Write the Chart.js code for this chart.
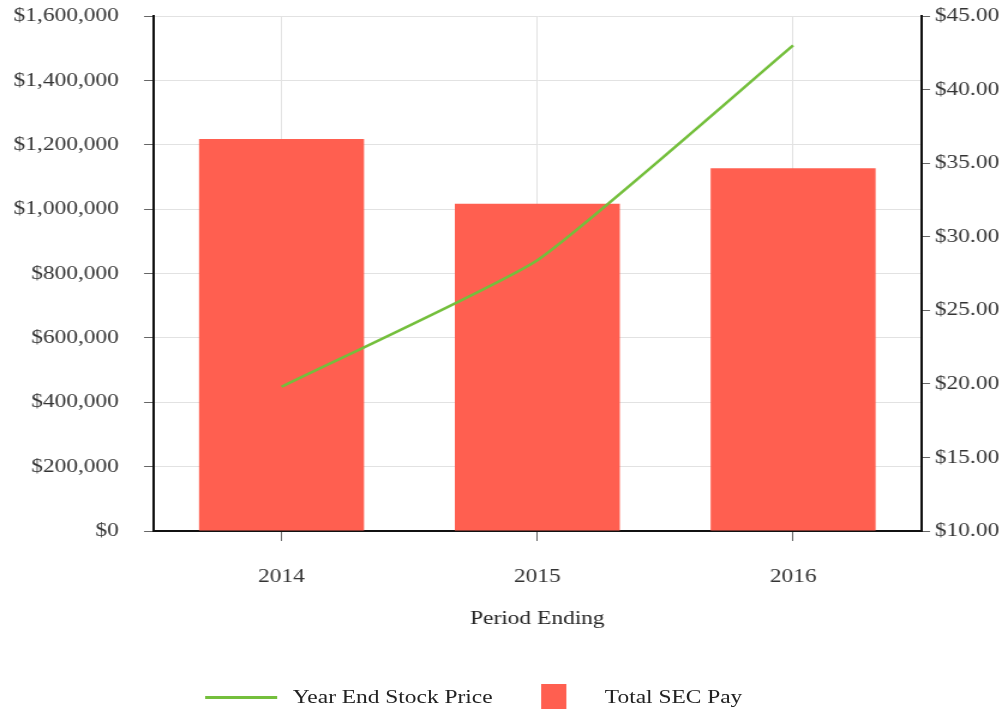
<!DOCTYPE html>
<html>
<head>
<meta charset="utf-8">
<script src="https://cdn.jsdelivr.net/npm/chart.js@4.4.0/dist/chart.umd.min.js"></script>
<style>
  html, body { margin: 0; padding: 0; background: #fff; overflow: hidden; }
  #stage { position: absolute; left: 0; top: 0; width: 839px; height: 712px;
           transform: scale(1.2, 1); transform-origin: 0 0; }
  #wrap { position: absolute; left: 0; top: 0; width: 839px; height: 712px; }
  .lg { position: absolute; font-family: "Liberation Serif", "Times New Roman", serif;
        font-size: 19.5px; color: #222; line-height: 24px; white-space: nowrap; }
</style>
</head>
<body>
<div id="stage">
  <div id="wrap"><canvas id="c"></canvas></div>
  <div class="lg" style="left:171px; top:696px; width:60px; height:3px; background:#74bf3c;"></div>
  <div class="lg" style="left:244px; top:685px;">Year End Stock Price</div>
  <div class="lg" style="left:451px; top:684px; width:21px; height:25px; background:#FF5F50;"></div>
  <div class="lg" style="left:504px; top:685px;">Total SEC Pay</div>
</div>
<script>
const categories = ["2014", "2015", "2016"];
const totalSecPay = [1218000, 1017000, 1127000];
const yearEndStockPrice = [19.8, 28.4, 43.0];
const payTickMin = 0, payTickMax = 1600000, payTickStep = 200000;
const priceTickMin = 10, priceTickMax = 45, priceTickStep = 5;

const FONT = { family: '"Liberation Serif", "Times New Roman", serif', size: 19.5 };
const GRID = '#e2e2e2';
const TICKC = '#666';

new Chart(document.getElementById('c'), {
  data: {
    labels: categories,
    datasets: [
      {
        type: 'line',
        label: 'Year End Stock Price',
        data: yearEndStockPrice,
        yAxisID: 'y1',
        borderColor: '#74bf3c',
        backgroundColor: '#74bf3c',
        borderWidth: 2.5,
        pointRadius: 0,
        tension: 0.15,
        order: 0
      },
      {
        type: 'bar',
        label: 'Total SEC Pay',
        data: totalSecPay,
        yAxisID: 'y',
        backgroundColor: '#FF5F50',
        borderWidth: 0,
        barPercentage: 0.645,
        categoryPercentage: 1.0,
        order: 1
      }
    ]
  },
  options: {
    responsive: true,
    maintainAspectRatio: false,
    animation: false,
    layout: { autoPadding: false, padding: { top: 16, bottom: 81, left: 0, right: 0 } },
    plugins: { legend: { display: false }, tooltip: { enabled: false } },
    scales: {
      x: {
        offset: true,
        grid: { offset: false, color: GRID, tickColor: TICKC, tickLength: 10, drawOnChartArea: true },
        border: { color: '#111', width: 2 },
        ticks: { font: FONT, color: '#333', padding: 24, maxRotation: 0 },
        title: { display: true, text: 'Period Ending', font: FONT, color: '#222', padding: { top: 0, bottom: 0 } },
        afterFit: s => { s.height = 100; s.paddingLeft = 0; s.paddingRight = 0; }
      },
      y: {
        position: 'left',
        min: payTickMin, max: payTickMax,
        grid: { color: GRID, tickColor: TICKC, tickLength: 8 },
        border: { color: '#111', width: 2 },
        ticks: {
          stepSize: payTickStep, font: FONT, color: '#333', padding: 21,
          callback: v => '$' + Number(v).toLocaleString('en-US')
        },
        afterFit: s => { s.width = 128; s.paddingTop = 0; s.paddingBottom = 0; }
      },
      y1: {
        position: 'right',
        min: priceTickMin, max: priceTickMax,
        grid: { drawOnChartArea: false, tickColor: TICKC, tickLength: 7.5 },
        border: { color: '#111', width: 2 },
        ticks: {
          stepSize: priceTickStep, font: FONT, color: '#333', padding: 4,
          callback: v => '$' + Number(v).toFixed(2)
        },
        afterFit: s => { s.width = 71.5; s.paddingTop = 0; s.paddingBottom = 0; }
      }
    }
  }
});
</script>
</body>
</html>
